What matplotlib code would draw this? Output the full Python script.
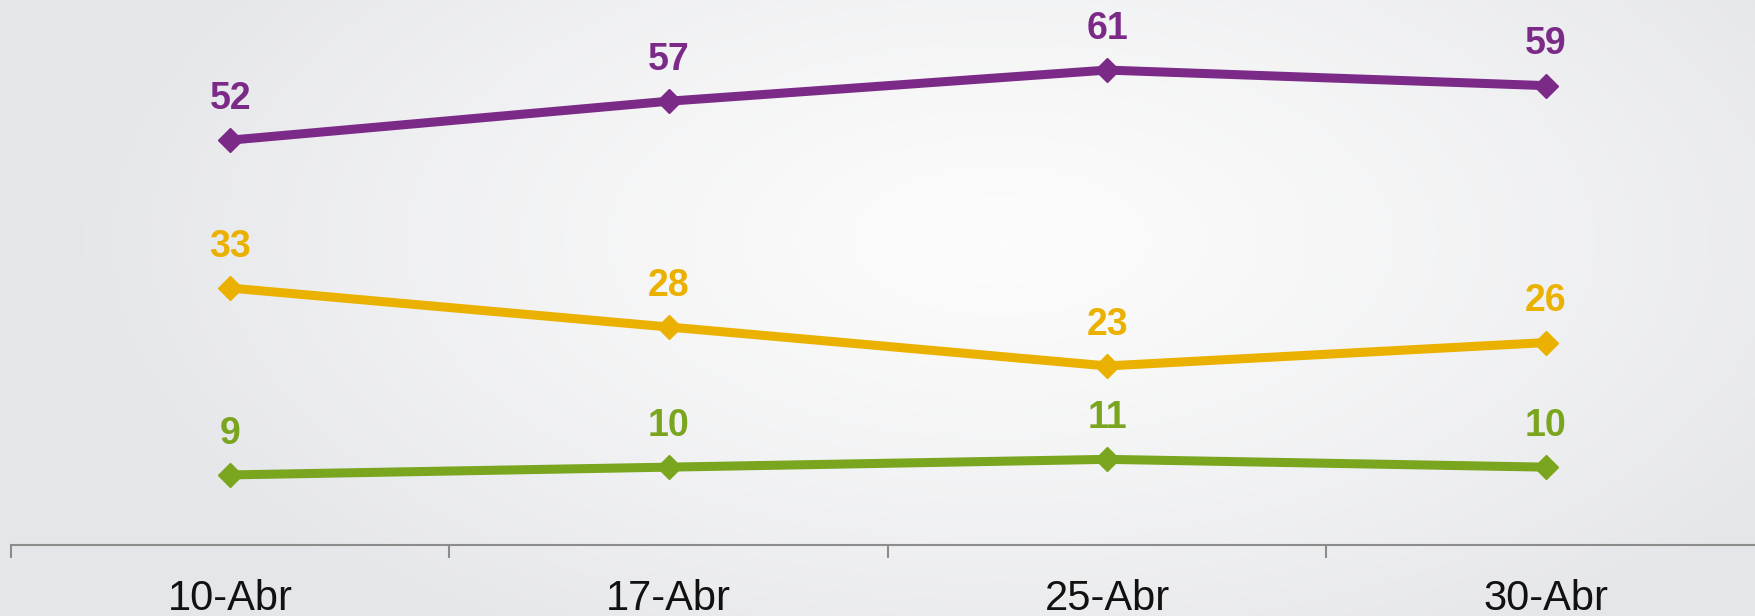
import numpy as np
import matplotlib
matplotlib.use("Agg")
import matplotlib.pyplot as plt

categories = ["10-Abr", "17-Abr", "25-Abr", "30-Abr"]
serie_a = [52, 57, 61, 59]
serie_b = [33, 28, 23, 26]
serie_c = [9, 10, 11, 10]

colors = ["#7B2A88", "#EBB100", "#7AA51E"]

W, H = 1756, 616
fig = plt.figure(figsize=(W / 100, H / 100), dpi=100)

# background radial gradient
bg = fig.add_axes([0, 0, 1, 1])
yy, xx = np.mgrid[0:H, 0:W]
r = np.sqrt(((xx - 1000) / 950.0) ** 2 + ((yy - 240) / 480.0) ** 2)
r = np.clip(r, 0, 1)
inner = np.array([252, 252, 252]) / 255.0
outer = np.array([229, 230, 233]) / 255.0
img = inner[None, None, :] * (1 - r[..., None] ** 1.3) + outer[None, None, :] * (r[..., None] ** 1.3)
bg.imshow(img, aspect="auto", extent=[0, 1, 0, 1], origin="upper")
bg.axis("off")

left = 11 / W
bottom = (H - 545) / H
ax = fig.add_axes([left, bottom, 1754 / W, 545 / H])
ax.patch.set_alpha(0)
x = np.arange(len(categories))
for vals, c in zip([serie_a, serie_b, serie_c], colors):
    ax.plot(x, vals, color=c, lw=6.5, marker="D", markersize=12.5, solid_capstyle="butt", zorder=3)
    for xi, v in zip(x, vals):
        ax.annotate(str(v), xy=(xi, v), xytext=(0, 22.5), textcoords="offset points",
                    ha="center", va="baseline", color=c, fontsize=27, fontweight="bold",
                    family="Liberation Sans")

ax.set_xlim(-0.5, 3.5)
ax.set_ylim(0, 70)
for s in ["top", "right", "left"]:
    ax.spines[s].set_visible(False)
ax.spines["bottom"].set_color("#8c8c8c")
ax.spines["bottom"].set_linewidth(1.5)
ax.set_yticks([])
ax.set_xticks([])
ax.set_xticks(np.arange(-0.5, 3.6, 1.0), minor=True)
ax.tick_params(axis="x", which="minor", direction="out", length=9.4, width=1.5, color="#8c8c8c")
for xi, lab in zip(x, categories):
    ax.annotate(lab, xy=(xi, 0), xycoords=("data", "axes fraction"), xytext=(0, -46.8),
                textcoords="offset points", ha="center", va="baseline", fontsize=30,
                color="#111111", family="Liberation Sans", annotation_clip=False)

fig.savefig("out.png", dpi=100)
